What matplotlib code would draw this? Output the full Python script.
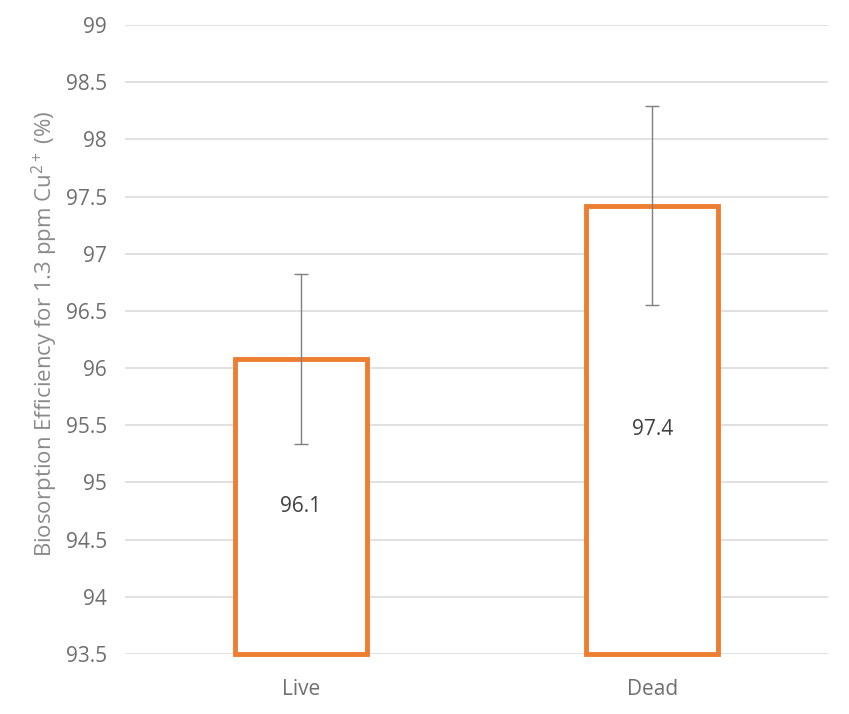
import matplotlib
matplotlib.use("Agg")
import matplotlib.pyplot as plt
import numpy as np

categories = ["Live", "Dead"]
values = [96.08, 97.42]
errors = [0.74, 0.87]
labels = ["96.1", "97.4"]
yticks = [93.5, 94, 94.5, 95, 95.5, 96, 96.5, 97, 97.5, 98, 98.5, 99]

plt.rcParams['font.family'] = ['Open Sans', 'DejaVu Sans']

fig = plt.figure(figsize=(8.49, 7.14), dpi=100)
ax = fig.add_axes([125/849, 60/714, 703/849, 629/714])

x = np.arange(len(categories))
base = 93.5
ax.bar(x, np.array(values) - base, bottom=base, width=0.375, facecolor='white',
       edgecolor='#ED7D31', linewidth=3.5, zorder=3, clip_on=False)
ax.errorbar(x, values, yerr=errors, fmt='none', ecolor='#7F7F7F', elinewidth=1.0,
            capsize=5, capthick=1.0, zorder=4)
for xi, v, lab in zip(x, values, labels):
    ax.text(xi, (base + v) / 2, lab, ha='center', va='center', fontsize=15,
            color='#404040', zorder=5)

ax.set_xlim(-0.5, 1.5)
ax.set_ylim(93.5, 99)
ax.set_yticks(yticks)
ax.set_yticklabels([f"{t:g}" for t in yticks])
ax.set_xticks(x)
ax.set_xticklabels(categories)
ax.tick_params(axis='both', length=0, labelsize=15, labelcolor='#6E6E6E')
ax.tick_params(axis='y', pad=13)
ax.tick_params(axis='x', pad=18)
ax.grid(axis='y', color='#D9D9D9', linewidth=1.1, zorder=0)
ax.set_axisbelow(True)
for s in ax.spines.values():
    s.set_visible(False)

ax.set_ylabel(r"Biosorption Efficiency for 1.3 ppm Cu$\mathregular{^{2+}}$ (%)",
              fontsize=16, color='#8A8A8A')
ax.yaxis.set_label_coords(-0.093, 0.51)

fig.savefig("out.png", dpi=100)
